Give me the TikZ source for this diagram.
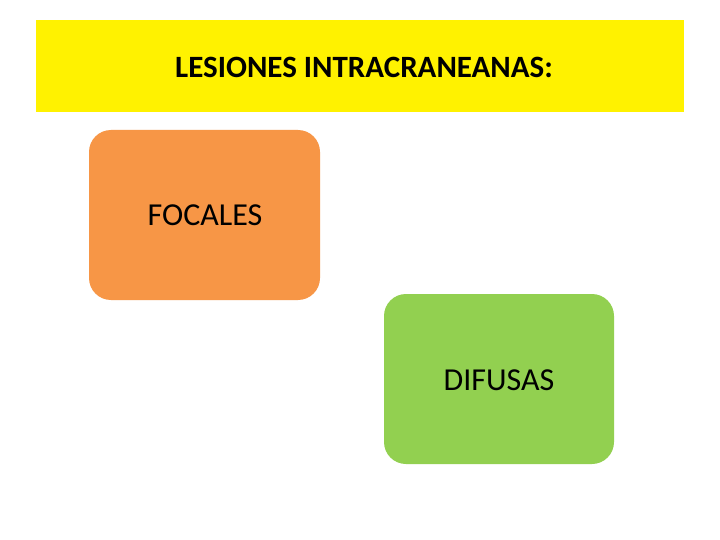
\documentclass[tikz,border=0pt]{standalone}
\usepackage{fontspec}
\setmainfont{Carlito}
\begin{document}
\begin{tikzpicture}[x=1pt,y=-1pt,
  box/.style={rounded corners=22pt,draw=none,font=\fontsize{32}{38}\selectfont}]
\useasboundingbox[fill=white] (0,0) rectangle (720,540);
\fill[yellow] (36,20) rectangle (684,112);
\node[font=\bfseries\fontsize{31}{37}\selectfont] (title) at (364,67) {LESIONES INTRACRANEANAS:};
\fill[box,fill={rgb,255:red,247;green,150;blue,70}] (89,130) rectangle (320,300);
\node[font=\fontsize{32}{38}\selectfont] (focales) at (205,215) {FOCALES};
\fill[box,fill={rgb,255:red,146;green,208;blue,80}] (384,294) rectangle (614,464);
\node[font=\fontsize{32}{38}\selectfont] (difusas) at (499,380) {DIFUSAS};
\end{tikzpicture}
\end{document}
